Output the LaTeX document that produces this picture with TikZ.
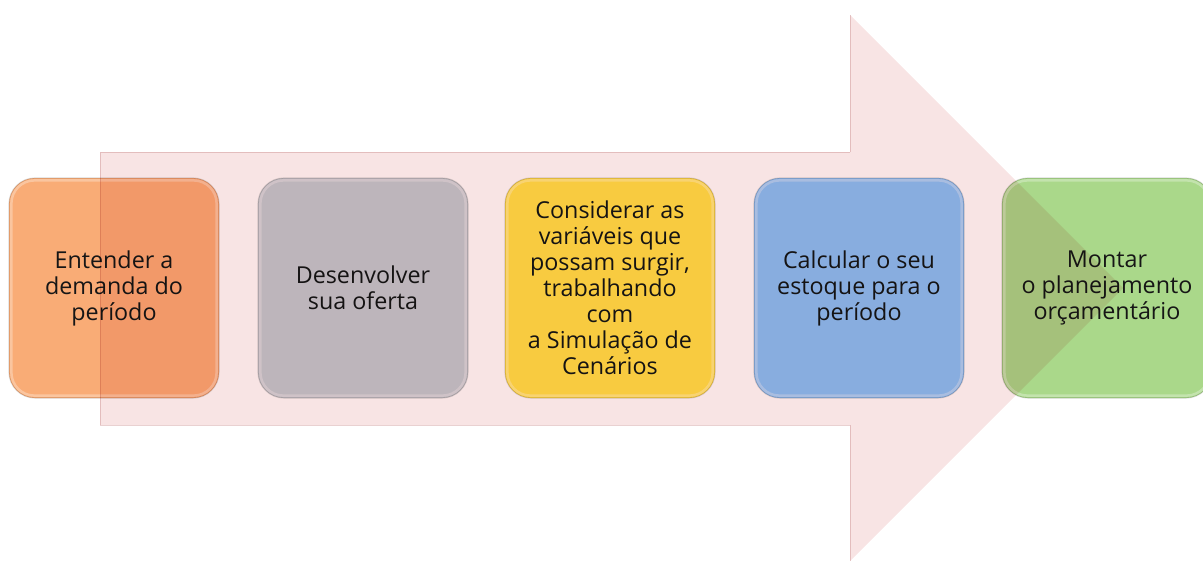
\documentclass[tikz,border=0pt]{standalone}
\usepackage{fontspec}
\setmainfont{Open Sans}
\definecolor{arrowpink}{RGB}{248,228,228}
\definecolor{arrowedge}{RGB}{234,212,212}
\definecolor{corange}{RGB}{249,172,118}
\definecolor{cgray}{RGB}{195,203,210}
\definecolor{cyellow}{RGB}{255,228,72}
\definecolor{cblue}{RGB}{140,194,250}
\definecolor{cgreen}{RGB}{170,216,138}
\definecolor{txt}{RGB}{22,22,22}
\tikzset{
  stepbox/.style={rounded corners=26pt, minimum width=210pt, minimum height=220pt,
    inner sep=0pt, align=center, text=txt,
    font=\fontsize{23.3}{26}\selectfont},
  rimdark/.style={draw=black, draw opacity=0.14, line width=1.2pt},
}
\begin{document}
\begin{tikzpicture}[x=1pt,y=-1pt]
\useasboundingbox (0,0) rectangle (1203,560);
\begin{scope}
\clip (0,0) rectangle (1203,560);
% boxes
\node[stepbox, fill=corange, rimdark] (b1) at (114,288) {Entender a\\demanda do\\período};
\node[stepbox, fill=cgray, rimdark] (b2) at (363,288) {Desenvolver\\sua oferta};
\node[stepbox, fill=cyellow, rimdark] (b3) at (610,288) {Considerar as\\variáveis que\\possam surgir,\\trabalhando\\com\\a Simulação de\\Cenários};
\node[stepbox, fill=cblue, rimdark] (b4) at (859,288) {Calcular o seu\\estoque para o\\período};
\node[stepbox, fill=cgreen, rimdark] (b5) at (1107,288) {Montar\\o planejamento\\orçamentário};
% inner light rims
\foreach \n in {b1,b2,b3,b4,b5}{
  \draw[white, opacity=0.3, line width=2.5pt, rounded corners=23pt]
    ([shift={(3pt,-3pt)}]\n.north west) rectangle ([shift={(-3pt,3pt)}]\n.south east);
}
% big arrow on top, multiplied
\begin{scope}[blend mode=multiply]
\fill[arrowpink] (100,152) -- (850,152) -- (850,15) -- (1123,288) -- (850,561)
  -- (850,425) -- (100,425) -- cycle;
\draw[arrowedge, line width=1pt] (850,152) -- (100,152) -- (100,425) -- (850,425);
\draw[arrowedge, line width=1pt] (850,152) -- (850,15);
\draw[arrowedge, line width=1pt] (850,425) -- (850,561);
\end{scope}
\end{scope}
\end{tikzpicture}
\end{document}
